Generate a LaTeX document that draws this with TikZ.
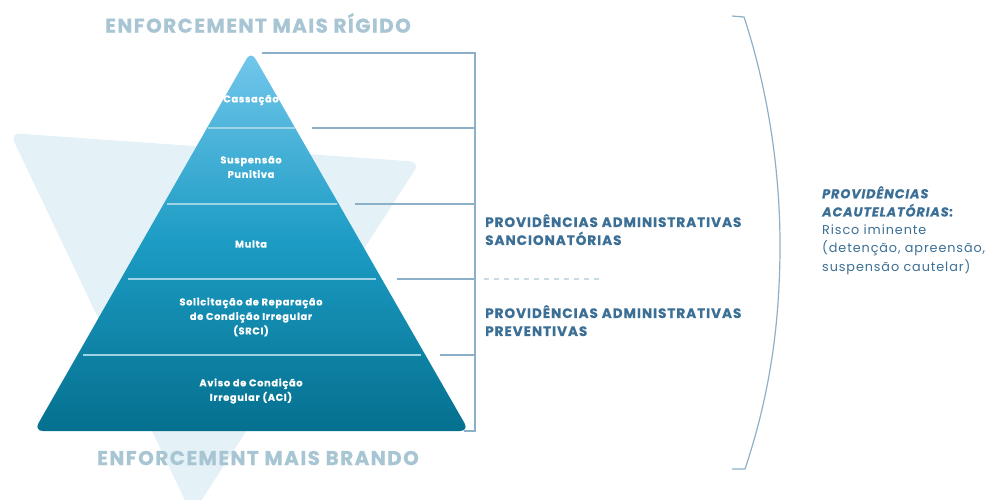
\documentclass[tikz,border=0pt]{standalone}
\usepackage{fontspec}
\setmainfont{Poppins}[LetterSpace=7,BoldFeatures={FakeBold=0.6},BoldItalicFeatures={FakeBold=0.6}]
\usetikzlibrary{calc}
\definecolor{bgtri}{HTML}{E4F1F7}
\definecolor{pyrtop}{HTML}{74C7EC}
\definecolor{pyrmid}{HTML}{1C9CC4}
\definecolor{pyrbot}{HTML}{05708F}
\definecolor{brk}{HTML}{8DB0C9}
\definecolor{lab}{HTML}{3B6F95}
\definecolor{ttl}{HTML}{A8C5D3}
\definecolor{dsh}{HTML}{C9DBE5}
\definecolor{divl}{HTML}{9ED3E6}
\tikzset{
  lvl/.style={text=white,font=\fontsize{9.8}{14.5}\selectfont\bfseries,align=center},
  ttlnode/.style={text=ttl,font=\fontsize{20}{22}\selectfont\bfseries},
  labnode/.style={text=lab,font=\fontsize{13.6}{18}\selectfont\bfseries,align=left,anchor=north west,inner sep=0pt},
  brkline/.style={draw=brk,line width=1.1pt},
  divline/.style={draw=divl,line width=1.2pt},
}
\begin{document}
\begin{tikzpicture}[x=1pt,y=-1pt]
\useasboundingbox (0,0) rectangle (988,499);
% background inverted triangle
\fill[bgtri,rounded corners=10pt] (10,133) -- (420,162) -- (192,515) -- cycle;
% pyramid
\shade[top color=pyrtop,bottom color=pyrbot,middle color=pyrmid,rounded corners=9pt]
  (251,51) -- (469,431) -- (34,431) -- cycle;
% dividers inside pyramid
\coordinate (d1l) at (208,128); \coordinate (d1r) at (295,128);
\coordinate (d2l) at (167,204); \coordinate (d2r) at (337,204);
\coordinate (d3l) at (128,279); \coordinate (d3r) at (376,279);
\coordinate (d4l) at (83,355);  \coordinate (d4r) at (421,355);
\draw[divline] (d1l) -- (d1r);
\draw[divline] (d2l) -- (d2r);
\draw[divline] (d3l) -- (d3r);
\draw[divline] (d4l) -- (d4r);
% level labels
\node[lvl] (cas) at (251,100) {Cassação};
\node[lvl] (sus) at (251,167) {Suspensão\\Punitiva};
\node[lvl] (mul) at (251,244) {Multa};
\node[lvl] (srci) at (251,317) {Solicitação de Reparação\\de Condição Irregular\\(SRCI)};
\node[lvl] (aci) at (251,391) {Aviso de Condição\\Irregular (ACI)};
% titles
\node[ttlnode] (top) at (258,23) {ENFORCEMENT MAIS RÍGIDO};
\node[ttlnode] (bot) at (258,458) {ENFORCEMENT MAIS BRANDO};
% bracket
\coordinate (b0) at (262,53); \coordinate (bv0) at (475,53);
\coordinate (b1) at (312,128); \coordinate (bv1) at (475,128);
\coordinate (b2) at (355,204); \coordinate (bv2) at (475,204);
\coordinate (b3) at (397,279); \coordinate (bv3) at (475,279);
\coordinate (b4) at (440,355); \coordinate (bv4) at (475,355);
\coordinate (bb) at (475,431); \coordinate (bbl) at (464,431);
\draw[brkline] (b0) -- (bv0) -- (bb) -- (bbl);
\draw[brkline] (b1) -- (bv1);
\draw[brkline] (b2) -- (bv2);
\draw[brkline] (b3) -- (bv3);
\draw[brkline] (b4) -- (bv4);
% dashed separator
\coordinate (ds0) at (484,279); \coordinate (ds1) at (604,279);
\draw[dsh,line width=1.5pt,dash pattern=on 5pt off 5pt] (ds0) -- (ds1);
% labels
\node[labnode] (sanc) at (485,214) {PROVIDÊNCIAS ADMINISTRATIVAS\\SANCIONATÓRIAS};
\node[labnode] (prev) at (485,305) {PROVIDÊNCIAS ADMINISTRATIVAS\\PREVENTIVAS};
% big parenthesis
\coordinate (p0) at (732,16); \coordinate (p1) at (744,17);
\coordinate (pm) at (780,245);
\coordinate (p2) at (745,469); \coordinate (p3) at (732,469);
\draw[brk,line width=1.2pt] (p0) -- (p1) .. controls (768,90) and (780,170) .. (pm)
  .. controls (780,330) and (768,400) .. (p2) -- (p3);
% right text
\node[text=lab,anchor=north west,inner sep=0pt,align=left,font=\fontsize{12.8}{18.2}\selectfont] (acau) at (822,186)
 {{\bfseries\itshape PROVIDÊNCIAS}\\{\bfseries\itshape ACAUTELATÓRIAS:}\\Risco iminente\\(detenção, apreensão,\\suspensão cautelar)};
\end{tikzpicture}
\end{document}
